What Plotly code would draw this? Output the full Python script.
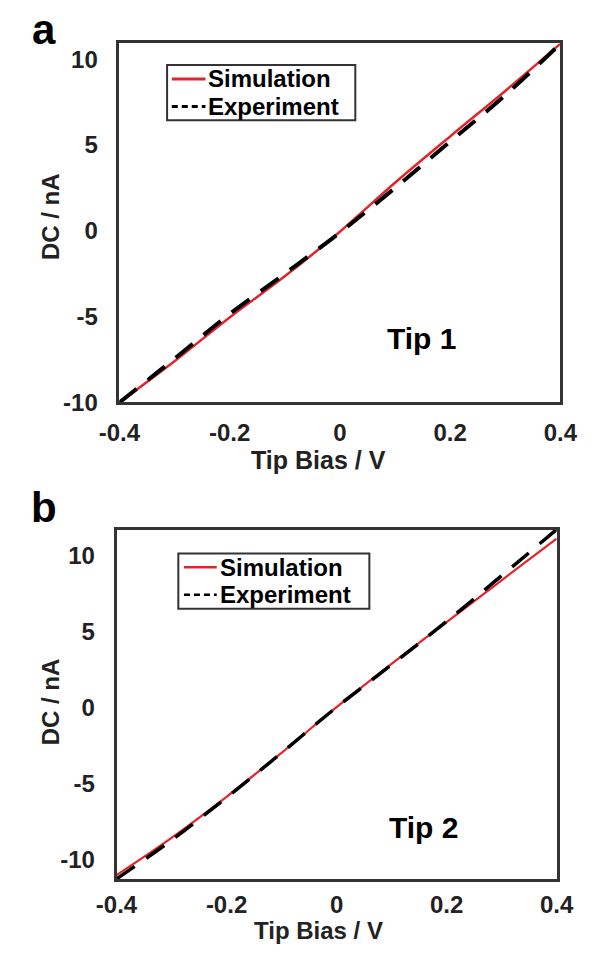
import plotly.graph_objects as go

# ---------------- data ----------------
bias = [-0.4, -0.3, -0.2, -0.1, 0.0, 0.1, 0.2, 0.3, 0.4]

sim_a = [-10.0, -7.6, -5.05, -2.65, -0.05, 2.8, 5.5, 8.15, 10.9]
exp_a = [-10.0, -7.45, -4.85, -2.5, -0.1, 2.5, 5.2, 7.9, 10.9]

sim_b = [-11.05, -8.6, -5.9, -3.0, 0.0, 2.85, 5.6, 8.35, 11.1]
exp_b = [-11.3, -8.75, -5.95, -3.0, 0.0, 2.8, 5.65, 8.65, 11.7]

x_tickvals = [-0.4, -0.2, 0.0, 0.2, 0.4]
x_ticktext = ["-0.4", "-0.2", "0", "0.2", "0.4"]
y_tickvals = [-10, -5, 0, 5, 10]
y_ticktext = ["-10", "-5", "0", "5", "10"]

series_names = ["Simulation", "Experiment"]

# ---------------- styling ----------------
W, H = 598, 958
FONT = "Liberation Sans, Arial, sans-serif"
RED = "#e3242b"
AXC = "#333333"
TXT = "#222222"
DASH = "22px,14px"


def px(x):
    return x / W


def py(y):
    return 1 - y / H


fig = go.Figure()

# panel a
fig.add_trace(go.Scatter(x=bias, y=sim_a, mode="lines", name=series_names[0],
                         line=dict(color=RED, width=2.5, shape="spline"),
                         xaxis="x", yaxis="y", showlegend=False))
fig.add_trace(go.Scatter(x=bias, y=exp_a, mode="lines", name=series_names[1],
                         line=dict(color="black", width=4, dash=DASH, shape="spline"),
                         xaxis="x", yaxis="y", showlegend=False))
# panel b
fig.add_trace(go.Scatter(x=bias, y=sim_b, mode="lines", name=series_names[0],
                         line=dict(color=RED, width=2.2, shape="spline"),
                         xaxis="x2", yaxis="y2", showlegend=False))
fig.add_trace(go.Scatter(x=bias, y=exp_b, mode="lines", name=series_names[1],
                         line=dict(color="black", width=3.5, dash=DASH, shape="spline"),
                         xaxis="x2", yaxis="y2", showlegend=False))

axis_common = dict(showline=True, mirror=True, linecolor=AXC, linewidth=2.5,
                   showgrid=False, zeroline=False, ticks="",
                   tickfont=dict(family=FONT, size=24, color=TXT, weight="bold"))

fig.update_layout(
    width=W, height=H,
    margin=dict(l=0, r=0, t=0, b=0),
    paper_bgcolor="white", plot_bgcolor="white",
    font=dict(family=FONT, color=TXT),
    showlegend=False,
    xaxis=dict(domain=[px(105), px(576)], anchor="y", range=[-0.4, 0.4],
               tickvals=x_tickvals, ticktext=x_ticktext, ticklabelstandoff=7,
               **axis_common),
    yaxis=dict(domain=[py(408), py(44)], anchor="x", range=[-10, 10.92],
               tickvals=y_tickvals, ticktext=y_ticktext, ticklabelstandoff=14,
               **axis_common),
    xaxis2=dict(domain=[px(102), px(572)], anchor="y2", range=[-0.4, 0.4],
                tickvals=x_tickvals, ticktext=x_ticktext, ticklabelstandoff=3,
                **axis_common),
    yaxis2=dict(domain=[py(891), py(537)], anchor="x2", range=[-11.3, 11.68],
                tickvals=y_tickvals, ticktext=y_ticktext, ticklabelstandoff=14,
                **axis_common),
)

shapes = []
ann = []
bold = lambda s, c=TXT: dict(family=FONT, size=s, color=c, weight="bold")


def add_legend(x0, y0, x1, y1, row1, row2, sx0, sx1, tx, sim_w, exp_w):
    shapes.append(dict(type="rect", xref="paper", yref="paper",
                       x0=px(x0), x1=px(x1), y0=py(y1), y1=py(y0),
                       fillcolor="white", line=dict(color=AXC, width=2)))
    shapes.append(dict(type="line", xref="paper", yref="paper",
                       x0=px(sx0), x1=px(sx1), y0=py(row1), y1=py(row1),
                       line=dict(color=RED, width=sim_w)))
    shapes.append(dict(type="line", xref="paper", yref="paper",
                       x0=px(sx0), x1=px(sx1), y0=py(row2), y1=py(row2),
                       line=dict(color="black", width=exp_w, dash="6px,4px")))
    ann.append(dict(text=series_names[0], x=px(tx), y=py(row1), xanchor="left",
                    font=bold(24, "black"), borderpad=0))
    ann.append(dict(text=series_names[1], x=px(tx), y=py(row2), xanchor="left",
                    font=bold(24, "black"), borderpad=0))


add_legend(156, 66, 357, 122, 80, 108, 161, 197, 199, 3, 3)
add_legend(168, 561, 372, 617, 575, 603, 174, 209, 211, 2.5, 2.5)

ann.append(dict(text="a", x=px(25), y=py(30), font=bold(42, "black")))
ann.append(dict(text="b", x=px(25), y=py(514), font=bold(42, "black")))
ann.append(dict(text="DC / nA", x=px(31), y=py(220), textangle=-90, font=bold(24)))
ann.append(dict(text="DC / nA", x=px(31), y=py(712), textangle=-90, font=bold(24)))
ann.append(dict(text="Tip Bias / V", x=px(318), y=py(466), font=bold(25)))
ann.append(dict(text="Tip Bias / V", x=px(318), y=0.0, yanchor="bottom",
                font=bold(24), borderpad=0))
ann.append(dict(text="Tip 1", x=px(428), y=py(343), font=bold(30, "black")))
ann.append(dict(text="Tip 2", x=px(430), y=py(839), font=bold(30, "black")))
for a in ann:
    a.setdefault("xanchor", "center")
    a.setdefault("yanchor", "middle")
    a.update(xref="paper", yref="paper", showarrow=False)

fig.update_layout(annotations=ann, shapes=shapes)

fig.write_html("out.html")
